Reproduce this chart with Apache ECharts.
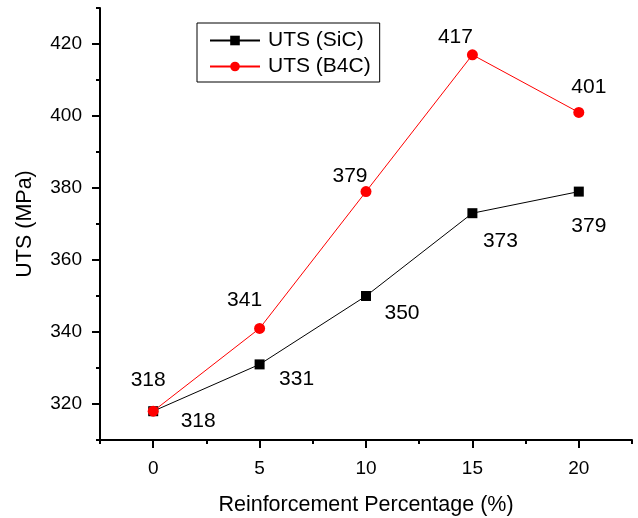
<!DOCTYPE html>
<html>
<head>
<meta charset="utf-8">
<script src="https://cdn.jsdelivr.net/npm/echarts@6/dist/echarts.min.js"></script>
<style>
  html, body { margin: 0; padding: 0; background: #fff; }
  #chart { width: 638px; height: 518px; }
</style>
</head>
<body>
<div id="chart"></div>
<script>
// Reinforcement content (%) and ultimate tensile strength (MPa)
const reinforcement = [0, 5, 10, 15, 20];
const utsSiC = [318, 331, 350, 373, 379];
const utsB4C = [318, 341, 379, 417, 401];
const seriesNames = ['UTS (SiC)', 'UTS (B4C)'];
const yMajorTicks = [320, 340, 360, 380, 400, 420];
const yMinorTicks = [310, 330, 350, 370, 390, 410, 430];
const xMajorTicks = [0, 5, 10, 15, 20];
const xMinorTicks = [-2.5, 2.5, 7.5, 12.5, 17.5, 22.5];

// Label offsets (px) for each point's value label
const sicLabelOffsets = [[45, 10], [37, 15], [36, 17], [28, 28], [10, 35]];
const b4cLabelOffsets = [[-5, -31], [-15, -28], [-16, -15], [-17, -18], [10, -25]];

const FONT = 'Liberation Sans, Arial, sans-serif';

function buildData(values, offsets) {
  return reinforcement.map((x, i) => ({
    value: [x, values[i]],
    label: {
      show: true,
      position: 'inside',
      offset: offsets[i],
      formatter: String(values[i]),
      color: '#000',
      fontSize: 21,
      fontFamily: FONT
    }
  }));
}

const chart = echarts.init(document.getElementById('chart'), null, { renderer: 'canvas' });

const tickStyle = { color: '#000', width: 2 };
const gridBox = { left: 100, right: 6, top: 8, bottom: 78, containLabel: false, outerBoundsMode: 'none' };

chart.setOption({
  animation: false,
  backgroundColor: '#fff',
  // grid 0 holds the data and major ticks, grid 1 (same box) carries the minor ticks
  grid: [Object.assign({}, gridBox), Object.assign({}, gridBox)],
  legend: {
    left: 197,
    top: 23,
    orient: 'vertical',
    itemGap: 5,
    itemWidth: 50,
    itemHeight: 12,
    padding: [7, 9, 5, 12],
    borderColor: '#000',
    borderWidth: 1,
    textStyle: { fontSize: 21, fontFamily: FONT, color: '#000', padding: [0, 0, 0, 3] },
    data: seriesNames
  },
  xAxis: [
    {
      gridIndex: 0,
      type: 'value', min: -2.5, max: 22.5,
      axisLine: { show: true, onZero: false, lineStyle: tickStyle },
      axisTick: { show: true, length: 8, customValues: xMajorTicks, lineStyle: tickStyle },
      axisLabel: { show: true, customValues: xMajorTicks, fontSize: 19, fontFamily: FONT, color: '#000', margin: 19 },
      splitLine: { show: false },
      name: 'Reinforcement Percentage (%)',
      nameLocation: 'middle',
      nameGap: 54,
      nameTextStyle: { fontSize: 21.5, fontFamily: FONT, color: '#000' }
    },
    {
      gridIndex: 1,
      type: 'value', min: -2.5, max: 22.5, position: 'bottom',
      axisLine: { show: false, onZero: false },
      axisTick: { show: true, length: 4, customValues: xMinorTicks, lineStyle: tickStyle },
      axisLabel: { show: false },
      splitLine: { show: false }
    }
  ],
  yAxis: [
    {
      gridIndex: 0,
      type: 'value', min: 310, max: 430,
      axisLine: { show: true, onZero: false, lineStyle: tickStyle },
      axisTick: { show: true, length: 8, customValues: yMajorTicks, lineStyle: tickStyle },
      axisLabel: { show: true, customValues: yMajorTicks, fontSize: 19, fontFamily: FONT, color: '#000', margin: 18 },
      splitLine: { show: false },
      name: 'UTS (MPa)',
      nameLocation: 'middle',
      nameGap: 64,
      nameRotate: 90,
      nameTextStyle: { fontSize: 21.5, fontFamily: FONT, color: '#000' }
    },
    {
      gridIndex: 1,
      type: 'value', min: 310, max: 430, position: 'left',
      axisLine: { show: false, onZero: false },
      axisTick: { show: true, length: 4, customValues: yMinorTicks, lineStyle: tickStyle },
      axisLabel: { show: false },
      splitLine: { show: false }
    }
  ],
  series: [
    {
      name: seriesNames[0],
      type: 'line',
      xAxisIndex: 0, yAxisIndex: 0,
      symbol: 'rect',
      symbolSize: 10,
      itemStyle: { color: '#000' },
      lineStyle: { color: '#000', width: 1 },
      data: buildData(utsSiC, sicLabelOffsets),
      z: 2
    },
    {
      name: seriesNames[1],
      type: 'line',
      xAxisIndex: 0, yAxisIndex: 0,
      symbol: 'circle',
      symbolSize: 11,
      itemStyle: { color: '#ff0000' },
      lineStyle: { color: '#ff0000', width: 1 },
      data: buildData(utsB4C, b4cLabelOffsets),
      z: 3
    }
  ]
});
</script>
</body>
</html>
